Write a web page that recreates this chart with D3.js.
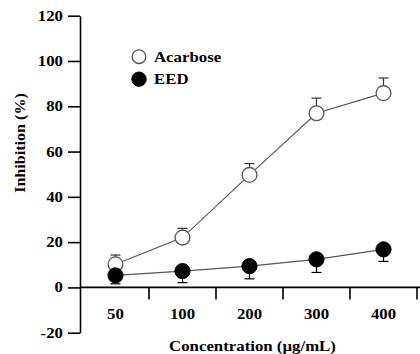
<!DOCTYPE html>
<html>
<head>
<meta charset="utf-8">
<script src="https://cdn.jsdelivr.net/npm/d3@7"></script>
<style>
  html, body { margin: 0; padding: 0; background: #fff; }
  svg text { font-family: "Liberation Serif", "Times New Roman", serif; font-weight: bold; fill: #000; }
</style>
</head>
<body>
<svg id="chart" width="420" height="354"></svg>
<script>
// Concentrations tested (µg/mL)
const categories = ["50", "100", "200", "300", "400"];
// Mean inhibition (%) and SD for each sample
const acarbose = [10.2, 22.0, 49.7, 76.9, 85.8];
const acarboseErr = [4.1, 4.1, 5.0, 6.7, 6.7];
const eed = [5.3, 7.2, 9.4, 12.4, 16.8];
const eedErr = [3.7, 5.1, 5.6, 5.8, 5.3];
const yTicks = [-20, 0, 20, 40, 60, 80, 100, 120];
const seriesNames = ["Acarbose", "EED"];

const svg = d3.select("#chart");
const stretch = 1.2;   // wide lettering
const fontSize = 14;

const x = d3.scaleBand().domain(categories).range([82, 417]).padding(0);
const y = d3.scaleLinear().domain([-20, 120]).range([332.7, 15.7]);
const axisX = 80;

// y axis
const gy = svg.append("g").attr("transform", `translate(${axisX},0)`)
  .call(d3.axisLeft(y).tickValues(yTicks).tickFormat(d => String(d))
    .tickSize(12).tickPadding(5).tickSizeOuter(0));
gy.select(".domain").attr("stroke", "#000").attr("stroke-width", 1.6);
gy.selectAll(".tick line").attr("stroke", "#000").attr("stroke-width", 1.6);
gy.selectAll(".tick text")
  .attr("font-size", fontSize)
  .each(function () {
    const t = d3.select(this);
    const tx = +t.attr("x");
    t.attr("x", 0).attr("transform", `translate(${tx},0) scale(${stretch},1)`);
  });

// x axis along y = 0, ticks between categories
const y0 = y(0);
const gx = svg.append("g");
gx.append("line")
  .attr("x1", axisX).attr("x2", 420)
  .attr("y1", y0).attr("y2", y0)
  .attr("stroke", "#000").attr("stroke-width", 1.6);
gx.selectAll("line.tk").data(categories).join("line")
  .attr("class", "tk")
  .attr("x1", d => x(d) + x.bandwidth()).attr("x2", d => x(d) + x.bandwidth())
  .attr("y1", y0).attr("y2", y0 + 12)
  .attr("stroke", "#000").attr("stroke-width", 1.6);
gx.selectAll("text").data(categories).join("text")
  .attr("text-anchor", "middle")
  .attr("font-size", fontSize)
  .attr("transform", d => `translate(${x(d) + x.bandwidth() / 2},319) scale(${stretch},1)`)
  .text(d => d);

// axis titles
svg.append("text")
  .attr("text-anchor", "middle")
  .attr("font-size", fontSize)
  .attr("transform", `translate(252.5,350.5) scale(${stretch},1)`)
  .text("Concentration (µg/mL)");
svg.append("text")
  .attr("text-anchor", "middle")
  .attr("font-size", fontSize)
  .attr("transform", `translate(25,143) rotate(-90) scale(1.15,1)`)
  .text("Inhibition (%)");

const cx = d => x(d) + x.bandwidth() / 2;
const line = d3.line().x(d => cx(d.c)).y(d => y(d.v));

function drawSeries(values, errs, dir, filled) {
  const pts = categories.map((c, i) => ({ c, v: values[i], e: errs[i] }));
  const g = svg.append("g");
  g.append("path").datum(pts)
    .attr("d", line).attr("fill", "none")
    .attr("stroke", "#555").attr("stroke-width", 1.1);
  const eb = g.selectAll("g.eb").data(pts).join("g").attr("class", "eb");
  eb.append("line")
    .attr("x1", d => cx(d.c)).attr("x2", d => cx(d.c))
    .attr("y1", d => y(d.v)).attr("y2", d => y(d.v + dir * d.e))
    .attr("stroke", filled ? "#000" : "#333").attr("stroke-width", 1.2);
  eb.append("line")
    .attr("x1", d => cx(d.c) - 5).attr("x2", d => cx(d.c) + 5)
    .attr("y1", d => y(d.v + dir * d.e)).attr("y2", d => y(d.v + dir * d.e))
    .attr("stroke", filled ? "#000" : "#333").attr("stroke-width", 1.2);
  g.selectAll("circle").data(pts).join("circle")
    .attr("cx", d => cx(d.c)).attr("cy", d => y(d.v))
    .attr("r", filled ? 7.6 : 7.4)
    .attr("fill", filled ? "#000" : "#fff")
    .attr("stroke", filled ? "#000" : "#555")
    .attr("stroke-width", filled ? 1 : 1.3);
}

drawSeries(acarbose, acarboseErr, 1, false);
drawSeries(eed, eedErr, -1, true);

// legend
const legend = svg.append("g");
seriesNames.forEach((name, i) => {
  const ly = 56.7 + i * 22.5;
  legend.append("circle")
    .attr("cx", 139).attr("cy", ly).attr("r", i === 0 ? 6.8 : 7.2)
    .attr("fill", i === 0 ? "#fff" : "#000")
    .attr("stroke", i === 0 ? "#555" : "#000")
    .attr("stroke-width", i === 0 ? 1.3 : 1);
  legend.append("text")
    .attr("font-size", fontSize)
    .attr("transform", `translate(154,${ly + 5}) scale(${stretch},1)`)
    .text(name);
});
</script>
</body>
</html>
